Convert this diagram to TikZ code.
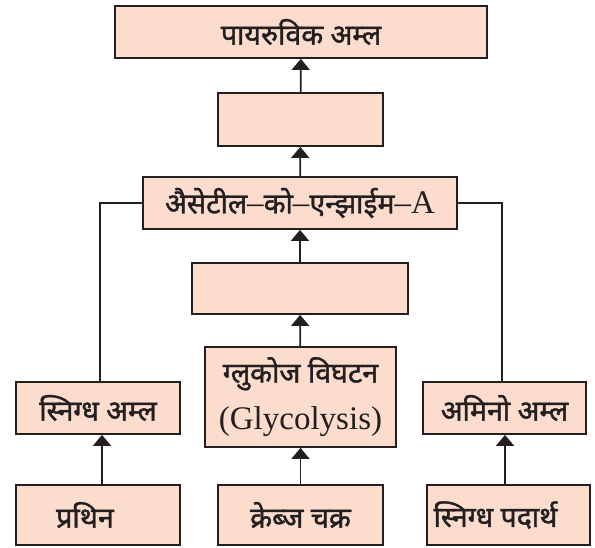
\documentclass[tikz,border=0pt]{standalone}
\usepackage{fontspec}
\setmainfont{Liberation Serif}
\newfontfamily\deva[Script=Devanagari,FakeBold=1.4]{Noto Sans}
\usetikzlibrary{arrows.meta}
\definecolor{boxfill}{RGB}{252,220,205}
\definecolor{ink}{RGB}{35,31,32}
\tikzset{
  box/.style={draw=ink, line width=1.8pt, fill=boxfill, inner sep=0pt, align=center,
    font=\deva\fontsize{28.5}{34}\selectfont, text=ink},
  arr/.style={draw=ink, line width=1.8pt, -{Triangle[width=18pt,length=11pt]}},
  link/.style={draw=ink, line width=1.8pt}
}
\newcommand{\latn}[1]{{\rmfamily\fontsize{33}{36}\selectfont #1}}
\begin{document}
\begin{tikzpicture}[x=1pt,y=1pt]
\useasboundingbox (0,0) rectangle (595,547);
\node[box, minimum width=372pt, minimum height=52pt] (pyr) at (301,515) {पायरुविक अम्ल};
\node[box, minimum width=165pt, minimum height=53pt] (b2) at (300.5,427.5) {};
\node[box, minimum width=314pt, minimum height=52pt] (ace) at (300,344) {अैसेटील\latn{–}को\latn{–}एन्झाईम\latn{–A}};
\node[box, minimum width=216pt, minimum height=51pt] (b4) at (300,258.5) {};
\node[box, minimum width=191pt, minimum height=100pt] (glu) at (300.5,150) {ग्लुकोज विघटन\\[13pt]\latn{(Glycolysis)}};
\node[box, minimum width=164pt, minimum height=52pt] (fat) at (98,139) {स्निग्ध अम्ल};
\node[box, minimum width=163pt, minimum height=52pt] (amino) at (504.5,139) {अमिनो अम्ल};
\node[box, minimum width=164pt, minimum height=60pt] (prot) at (98,32) {\hspace*{-26pt}प्रथिन};
\node[box, minimum width=165pt, minimum height=60pt] (krebs) at (300.5,32) {क्रेब्ज चक्र};
\node[box, minimum width=163pt, minimum height=60pt] (lipid) at (508.5,32) {\hspace*{-26pt}स्निग्ध पदार्थ};
\draw[arr] (b2) -- (pyr);
\draw[arr] (ace) -- (b2);
\draw[arr] (b4) -- (ace);
\draw[arr] (glu) -- (b4);
\draw[arr] (krebs) -- (glu);
\draw[arr] ([xshift=4pt]prot.north) -- ([xshift=4pt]fat.south);
\draw[arr] ([xshift=-3.5pt]lipid.north) -- ([xshift=0.5pt]amino.south);
\draw[link] (ace.west) -| ([xshift=2pt]fat.north);
\draw[link] (ace.east) -| ([xshift=-2.5pt]amino.north);
\end{tikzpicture}
\end{document}
